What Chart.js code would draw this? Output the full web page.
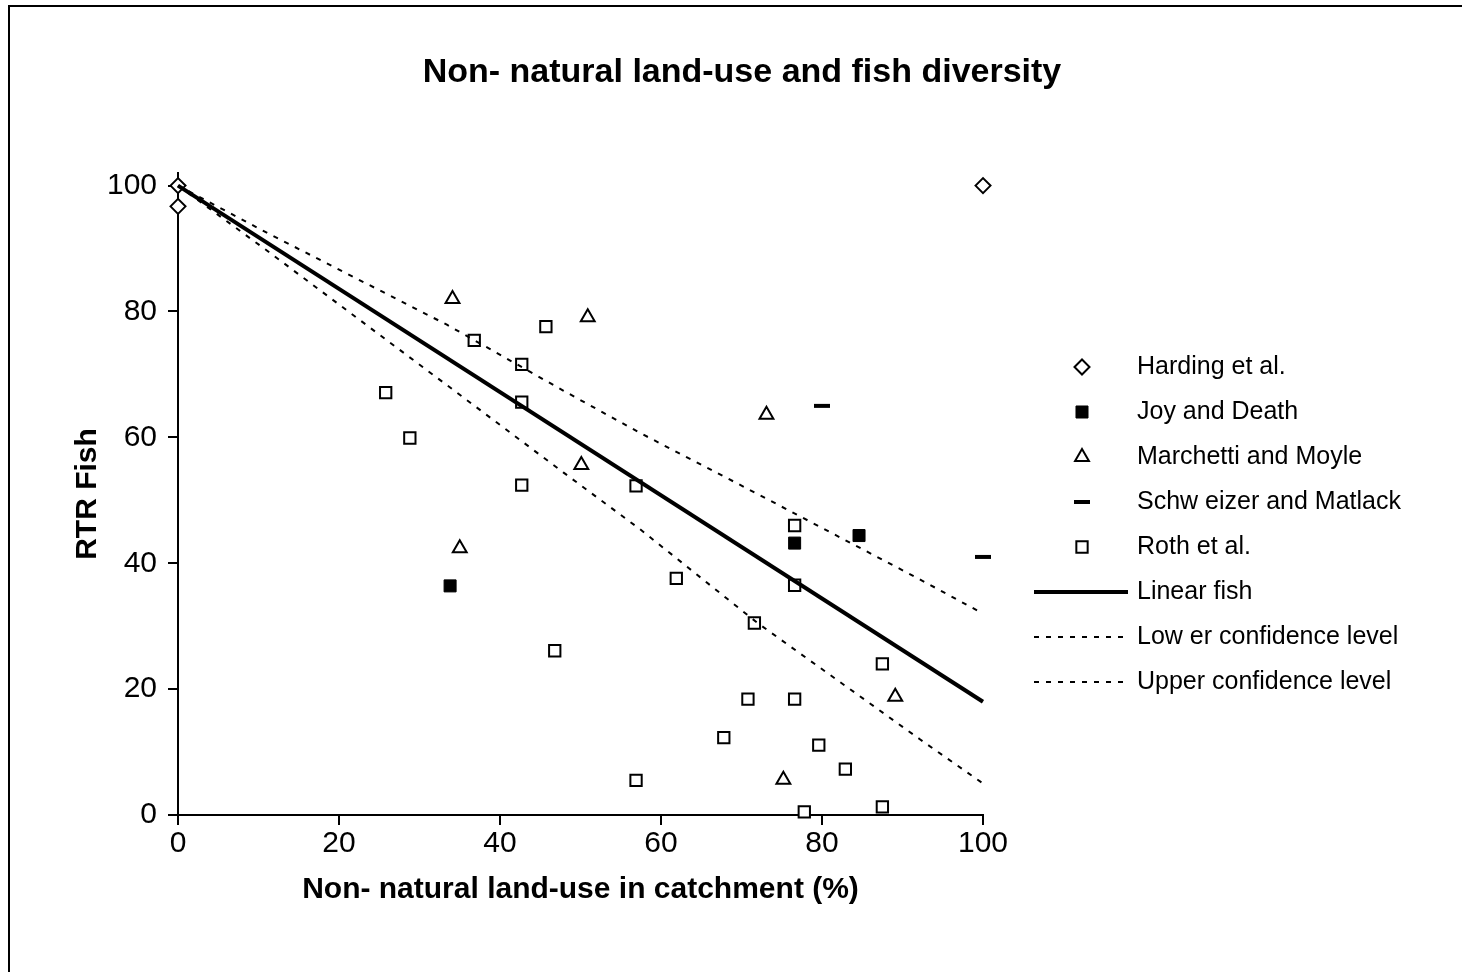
<!DOCTYPE html>
<html>
<head>
<meta charset="utf-8">
<title>Non- natural land-use and fish diversity</title>
<script src="https://cdn.jsdelivr.net/npm/chart.js@4/dist/chart.umd.min.js"></script>
<style>
  html, body { margin: 0; padding: 0; background: #fff; }
  #wrap { width: 1462px; height: 972px; position: relative; }
  canvas { display: block; }
</style>
</head>
<body>
<div id="wrap"><canvas id="chart" width="1462" height="972"></canvas></div>
<script>
// Study data: % non-natural land-use in catchment (x) vs RTR fish score (y)
const hardingX = [0, 0, 100];
const hardingY = [100, 96.7, 100];

const joyX = [33.8, 76.6, 84.6];
const joyY = [36.4, 43.2, 44.4];

const marchettiX = [34.1, 50.9, 73.1, 50.1, 35.0, 89.1, 75.2];
const marchettiY = [82.0, 79.1, 63.6, 55.6, 42.4, 18.8, 5.6];

const schweizerX = [80, 100];
const schweizerY = [65, 41];

const rothX = [25.8, 28.8, 36.8, 45.7, 42.7, 42.7, 42.7, 56.9, 76.6, 76.6, 61.9,
               46.8, 71.6, 87.5, 70.8, 76.6, 67.8, 79.6, 82.9, 56.9, 77.8, 87.5];
const rothY = [67.1, 59.9, 75.4, 77.6, 71.6, 65.6, 52.4, 52.3, 46.0, 36.5, 37.6,
               26.1, 30.5, 24.0, 18.4, 18.4, 12.3, 11.1, 7.3, 5.5, 0.5, 1.3];

// Fitted line and its confidence limits
const fitX = [0, 100];
const fitY = [100, 18];
const confX = [0, 10.6, 33.4, 47.9, 57.4, 72.0, 92.2, 100];
const lowerY = [100, 90.1, 68.3, 54.4, 45.4, 30.5, 12.0, 5];
const upperY = [100, 92.8, 77.9, 67.4, 60.7, 51.0, 37.4, 32];

const xTicks = [0, 20, 40, 60, 80, 100];
const yTicks = [0, 20, 40, 60, 80, 100];

const FONT = "'Liberation Sans', Arial, Helvetica, sans-serif";
const pts = (xs, ys) => xs.map((x, i) => ({ x: x, y: ys[i] }));

const markerSet = (label, xs, ys, style, radius, fill, bw) => ({
  label: label,
  data: pts(xs, ys),
  pointStyle: style,
  pointRadius: radius,
  pointBackgroundColor: fill,
  pointBorderColor: '#000',
  pointBorderWidth: bw,
  showLine: false,
  clip: false,
  order: 1
});

const lineSet = (label, xs, ys, width, dash) => ({
  label: label,
  data: pts(xs, ys),
  showLine: true,
  borderColor: '#000',
  borderWidth: width,
  borderDash: dash,
  pointRadius: 0,
  fill: false,
  tension: 0,
  clip: false,
  order: 0
});

const datasets = [
  markerSet('Harding et al.', hardingX, hardingY, 'rectRot', 7.5, '#fff', 2),
  markerSet('Joy and Death', joyX, joyY, 'rect', 8.5, '#000', 1),
  markerSet('Marchetti and Moyle', marchettiX, marchettiY, 'triangle', 8, '#fff', 2),
  markerSet('Schw eizer and Matlack', schweizerX, schweizerY, 'line', 8, '#000', 4),
  markerSet('Roth et al.', rothX, rothY, 'rect', 8, '#fff', 2),
  lineSet('Linear fish', fitX, fitY, 4, []),
  lineSet('Low er confidence level', confX, lowerY, 2, [5, 7]),
  lineSet('Upper confidence level', confX, upperY, 2, [5, 7])
];

const PAD_LEFT = 22;
const PAD_BOTTOM = 0;

// Draws the outer frame, the chart heading and the legend on the canvas
const framePlugin = {
  id: 'frameAndLegend',
  afterDraw(chart) {
    const ctx = chart.ctx;
    ctx.save();
    ctx.strokeStyle = '#000';
    ctx.lineWidth = 2;
    ctx.setLineDash([]);
    ctx.strokeRect(9, 6, 2000, 2000);

    ctx.fillStyle = '#000';
    ctx.font = 'bold 34px ' + FONT;
    ctx.textAlign = 'center';
    ctx.textBaseline = 'middle';
    ctx.fillText('Non- natural land-use and fish diversity', 742, 73);

    const markerX = 1082, lineX0 = 1034, lineX1 = 1128, textX = 1137;
    const rowY0 = 367, rowStep = 45;
    ctx.font = '25px ' + FONT;
    ctx.textAlign = 'left';
    chart.data.datasets.forEach((ds, i) => {
      const y = rowY0 + i * rowStep;
      ctx.save();
      if (ds.showLine) {
        ctx.strokeStyle = ds.borderColor;
        ctx.lineWidth = ds.borderWidth;
        ctx.setLineDash(ds.borderDash || []);
        ctx.beginPath();
        ctx.moveTo(lineX0, y);
        ctx.lineTo(lineX1, y);
        ctx.stroke();
      } else {
        ctx.setLineDash([]);
        ctx.fillStyle = ds.pointBackgroundColor;
        ctx.strokeStyle = ds.pointBorderColor;
        ctx.lineWidth = ds.pointBorderWidth;
        Chart.helpers.drawPoint(ctx, {
          pointStyle: ds.pointStyle,
          radius: ds.pointRadius,
          rotation: 0,
          borderWidth: ds.pointBorderWidth
        }, markerX, y);
      }
      ctx.restore();
      ctx.fillStyle = '#000';
      ctx.fillText(ds.label, textX, y);
    });
    ctx.restore();
  }
};

new Chart(document.getElementById('chart'), {
  type: 'scatter',
  data: { datasets: datasets },
  plugins: [framePlugin],
  options: {
    responsive: false,
    animation: false,
    events: [],
    layout: { padding: { left: PAD_LEFT, right: 479, top: 173, bottom: PAD_BOTTOM } },
    plugins: {
      legend: { display: false },
      title: { display: false },
      tooltip: { enabled: false }
    },
    scales: {
      x: {
        type: 'linear',
        min: 0,
        max: 100,
        afterBuildTicks: s => { s.ticks = xTicks.map(v => ({ value: v })); },
        afterFit: s => { s.height = 972 - 815 - PAD_BOTTOM; },
        border: { display: true, color: '#000', width: 2 },
        grid: { drawOnChartArea: false, drawTicks: true, tickLength: 10, tickColor: '#000', tickWidth: 2, lineWidth: 2, color: '#000' },
        ticks: { color: '#000', padding: 1, maxRotation: 0, font: { family: FONT, size: 30 } },
        title: {
          display: true,
          text: 'Non- natural land-use in catchment (%)',
          color: '#000',
          font: { family: FONT, size: 30, weight: 'bold' },
          padding: { top: 0, bottom: 64 }
        }
      },
      y: {
        type: 'linear',
        min: 0,
        max: 102,
        afterBuildTicks: s => { s.ticks = yTicks.map(v => ({ value: v })); },
        afterFit: s => { s.width = 178 - PAD_LEFT; },
        border: { display: true, color: '#000', width: 2 },
        grid: { drawOnChartArea: false, drawTicks: true, tickLength: 10, tickColor: '#000', tickWidth: 2, lineWidth: 2, color: '#000' },
        ticks: { color: '#000', padding: 11, font: { family: FONT, size: 30 } },
        title: {
          display: true,
          text: 'RTR Fish',
          color: '#000',
          font: { family: FONT, size: 30, weight: 'bold' },
          padding: { top: 48, bottom: 0 }
        }
      }
    }
  }
});
</script>
</body>
</html>
